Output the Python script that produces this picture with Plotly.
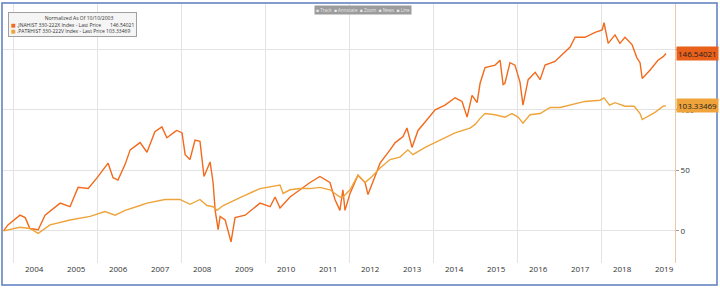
import plotly.graph_objects as go

# ---- data (normalized % change since 10/10/2003) ----
jna_dates = ["2003-10-10","2003-11-17","2004-03-01","2004-04-15","2004-05-26","2004-08-06","2004-10-05",
    "2005-02-13","2005-05-10","2005-07-19","2005-10-15","2006-01-01","2006-04-06","2006-05-19","2006-07-01",
    "2006-09-01","2006-10-15","2007-01-09","2007-03-10","2007-05-18","2007-07-18","2007-08-30","2007-11-09",
    "2007-11-25","2008-01-09","2008-02-05","2008-03-18","2008-05-01","2008-06-13","2008-07-18","2008-09-09",
    "2008-10-05","2008-10-23","2008-11-18","2008-12-05","2009-01-18","2009-03-10","2009-04-14","2009-07-11",
    "2009-11-17","2010-02-13","2010-03-28","2010-05-10","2010-08-05","2010-10-31","2011-01-26","2011-04-22",
    "2011-07-18","2011-08-31","2011-10-13","2011-11-08","2011-11-26","2012-01-09","2012-03-18","2012-05-19",
    "2012-06-13","2012-08-13","2012-09-26","2012-12-22","2013-02-05","2013-04-14","2013-05-18","2013-07-01",
    "2013-08-22","2013-10-23","2014-01-18","2014-04-14","2014-07-10","2014-09-09","2014-10-23","2014-12-05",
    "2015-01-18","2015-02-13","2015-03-28","2015-06-24","2015-08-06","2015-09-01","2015-09-17","2015-10-31",
    "2015-12-13","2016-01-26","2016-02-21","2016-04-06","2016-06-06","2016-07-19","2016-08-31","2016-11-25",
    "2017-01-09","2017-04-06","2017-05-19","2017-08-13","2017-11-09","2018-01-10","2018-01-26","2018-03-03",
    "2018-05-01","2018-06-13","2018-07-27","2018-09-26","2018-11-08","2018-12-05","2018-12-24","2019-03-03",
    "2019-05-10","2019-06-24","2019-07-19"]
jna_values = [0,5,13,11,2,1,13,
    23,20,36,35,44,56,44,42,
    55,67,73,65,82,86,77,82,
    83,81,63,59,75,74,45,57,
    40,17,1,12,9,-9,11,13,
    23,20,28,19,28,34,40,45,
    40,26,17,34,17,31,46,40,
    30,45,56,67,73,78,85,69,
    83,90,100,104,110,107,94,112,
    106,122,135,137,141,121,122,139,
    137,123,104,125,131,125,137,140,
    144,152,160,160,164,166,172,155,
    162,155,160,154,143,139,126,133,
    141,144,146.54021]

patr_dates = ["2003-10-10","2004-03-01","2004-05-26","2004-08-06","2004-11-17","2005-05-10","2005-10-31",
    "2006-03-10","2006-06-06","2006-09-01","2007-01-09","2007-03-10","2007-08-13","2007-12-22","2008-03-18",
    "2008-06-13","2008-08-13","2008-10-05","2008-11-08","2009-01-01","2009-06-06","2009-11-17","2010-05-10",
    "2010-06-06","2010-08-05","2010-10-31","2011-01-26","2011-04-22","2011-07-18","2011-10-13","2011-11-08",
    "2012-01-09","2012-03-18","2012-05-19","2012-07-18","2012-09-26","2012-12-22","2013-03-18","2013-05-26",
    "2013-07-09","2013-10-23","2014-03-01","2014-07-10","2014-11-17","2015-01-01","2015-02-13","2015-03-28",
    "2015-06-24","2015-09-17","2015-11-17","2016-01-09","2016-02-21","2016-04-22","2016-07-19","2016-10-15",
    "2017-01-09","2017-04-06","2017-08-13","2017-12-22","2018-01-26","2018-03-15","2018-05-01","2018-07-27",
    "2018-10-15","2018-12-05","2018-12-24","2019-04-14","2019-06-24","2019-07-19"]
patr_values = [0,3,2,-2,5,9,12,
    16,13,17,21,23,26,26,22,
    26,21,20,17,21,28,35,38,
    31,34,35,35,36,34,28,28,
    34,46,40,45,52,59,61,67,
    63,69,75,81,85,88,93,97,
    96,94,97,94,89,96,97,102,
    102,104,107,108,110,104,106,103,
    103,97,92,98,103,103.33469]

jna_name = ".JNAHIST 330-222X Index - Last Price"
patr_name = ".PATRHIST 330-222V Index - Last Price"
legend_title = "Normalized As Of 10/10/2003"
year_labels = [str(y) for y in range(2004, 2020)]
y_ticks = [0, 50, 100, 150]

ORANGE = "#f26a1c"
YELLOW = "#eea43a"

fig = go.Figure()
fig.add_trace(go.Scatter(x=jna_dates, y=jna_values, mode="lines", name=jna_name,
                         line=dict(color=ORANGE, width=1.4), showlegend=False))
fig.add_trace(go.Scatter(x=patr_dates, y=patr_values, mode="lines", name=patr_name,
                         line=dict(color=YELLOW, width=1.4), showlegend=False))

x_range = ["2003-10-05", "2019-10-05"]

fig.update_layout(
    width=720, height=288,
    margin=dict(l=3, r=45, t=4, b=25),
    paper_bgcolor="white", plot_bgcolor="white",
    font=dict(family="Open Sans, DejaVu Sans, sans-serif", size=8, color="#333333"),
    showlegend=False,
    xaxis=dict(type="date", range=x_range,
               tickvals=[f"{y}-07-02" for y in year_labels], ticktext=year_labels,
               showgrid=False, zeroline=False, showline=False, ticks="",
               tickfont=dict(size=8, color="#333333")),
    xaxis2=dict(type="date", range=x_range, overlaying="x", anchor="y",
                dtick="M24", tick0="2004-01-01", showgrid=True, gridcolor="#e3e3e3",
                showticklabels=False, ticks="", zeroline=False, showline=False),
    yaxis=dict(side="right", range=[-26.5, 187.5], tickvals=y_ticks,
               showgrid=True, gridcolor="#e3e3e3", zeroline=False,
               showline=True, linecolor="#ecc9a6", linewidth=1,
               ticks="outside", ticklen=3, tickcolor="#999999",
               tickfont=dict(size=8, color="#333333")),
)
# invisible trace to make xaxis2 active (gridlines)
fig.add_trace(go.Scatter(x=[x_range[0]], y=[None], xaxis="x2", showlegend=False, hoverinfo="skip"))

# compact legend box (Bloomberg style)
legend_text = (
    "&nbsp;" * 26 + legend_title + "<br>"
    f"<span style='color:{ORANGE}'>■</span> {jna_name}" + "&nbsp;" * 7 + f"{jna_values[-1]:.5f}<br>"
    f"<span style='color:{YELLOW}'>■</span> {patr_name} {patr_values[-1]:.5f}"
)
fig.add_annotation(xref="paper", yref="paper", x=0.0074, y=0.969, xanchor="left", yanchor="top",
                   text=legend_text, showarrow=False, align="left",
                   font=dict(size=5, color="#333333"),
                   bgcolor="rgba(244,244,244,0.95)", bordercolor="#a0a0a0", borderwidth=1, borderpad=2)

# last-price tags on the right axis
for vals, col in ((jna_values, "#e8601a"), (patr_values, "#eea43a")):
    fig.add_annotation(xref="paper", yref="y", x=1.0, y=vals[-1], xanchor="left",
                       text=f"{vals[-1]:.5f}", showarrow=False,
                       font=dict(size=8, color="#222222"), bgcolor=col,
                       borderpad=1, xshift=1)

# toolbar strip
fig.add_annotation(xref="paper", yref="paper", x=0.535, y=0.996, yanchor="top",
                   text="▪ Track  ▪ Annotate  ▪ Zoom  ▪ News  ▪ Line", showarrow=False,
                   font=dict(size=4.5, color="#e8e8e8"), bgcolor="#9c9c9c", borderpad=1)

# outer blue frame
fig.add_shape(type="rect", xref="paper", yref="paper",
              x0=-0.0015, x1=1.0625, y0=-0.085, y1=1.004,
              line=dict(color="#5a7cc0", width=1.5), fillcolor="rgba(0,0,0,0)")

fig.write_html("out.html")
